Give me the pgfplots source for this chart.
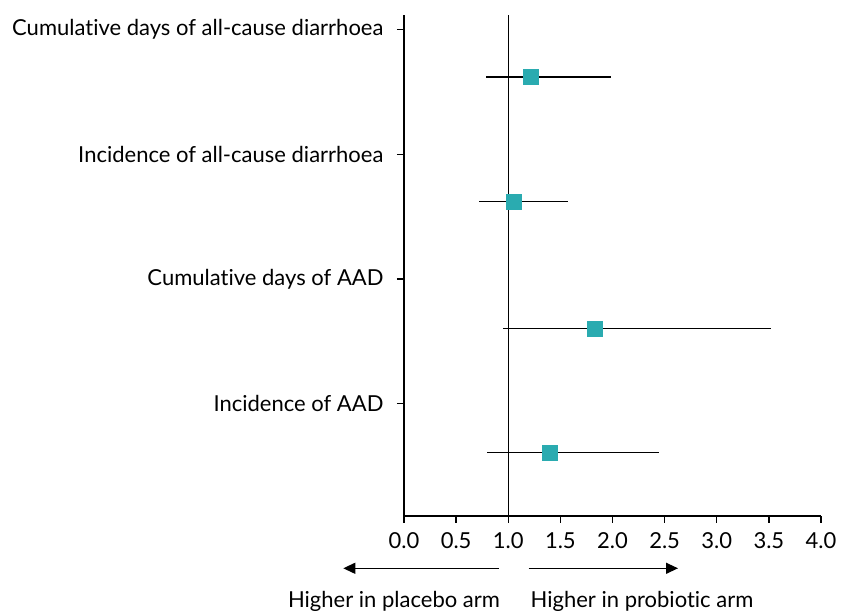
\documentclass[border=0pt]{standalone}
\usepackage{fontspec}
\setmainfont{Lato}[Ligatures=NoCommon]
\usepackage{pgfplots}
\pgfplotsset{compat=1.18}
\usetikzlibrary{arrows.meta}
\definecolor{teal1}{RGB}{42,171,176}
\begin{document}
\fontsize{22bp}{26bp}\selectfont
\begin{tikzpicture}
\useasboundingbox (0,0) rectangle (841bp,612bp);
\begin{axis}[
  at={(404bp,96bp)}, anchor=south west,
  scale only axis, width=417bp, height=501bp,
  xmin=0, xmax=4, ymin=0, ymax=4.018,
  axis lines=left,
  axis line style={-, line width=1.3bp, black},
  every tick/.style={black, line width=1.3bp},
  tick align=outside,
  major tick length=7bp,
  xtick={0,0.5,1,1.5,2,2.5,3,3.5,4},
  x tick label style={/pgf/number format/fixed, /pgf/number format/fixed zerofill, /pgf/number format/precision=1, yshift=-2bp},
  y tick label style={xshift=-6bp},
  /pgf/number format/assume math mode=true,
  ytick={0.9,1.9,2.9,3.9},
  yticklabels={Incidence of AAD, Cumulative days of AAD, Incidence of all-cause diarrhoea, Cumulative days of all-cause diarrhoea},
  tick label style={font=\fontsize{22bp}{26bp}\selectfont},
  clip=false,
]
\addplot[black, line width=1.3bp] coordinates {(1,0) (1,4.018)};
\addplot[only marks, mark=square*, mark size=7.5bp, color=teal1,
  error bars/.cd, x dir=both, x explicit, error mark=none,
  error bar style={black, line width=1.3bp}]
  coordinates {
    (1.22,3.52) -= (0.434,0) += (0.768,0)
    (1.05,2.52) -= (0.333,0) += (0.52,0)
    (1.83,1.505) -= (0.878,0) += (1.69,0)
    (1.396,0.51) -= (0.596,0) += (1.054,0)
  };
\end{axis}
\draw[line width=1.3bp, -{Triangle[length=12bp,width=11bp]}] (499bp,43.7bp) -- (343.3bp,43.7bp);
\draw[line width=1.3bp, -{Triangle[length=12bp,width=11bp]}] (528.5bp,43.7bp) -- (678bp,43.7bp);
\node[anchor=base, inner sep=0pt] at (394bp,4.7bp) {Higher in placebo arm};
\node[anchor=base, inner sep=0pt] at (642bp,4.7bp) {Higher in probiotic arm};
\end{tikzpicture}
\end{document}
